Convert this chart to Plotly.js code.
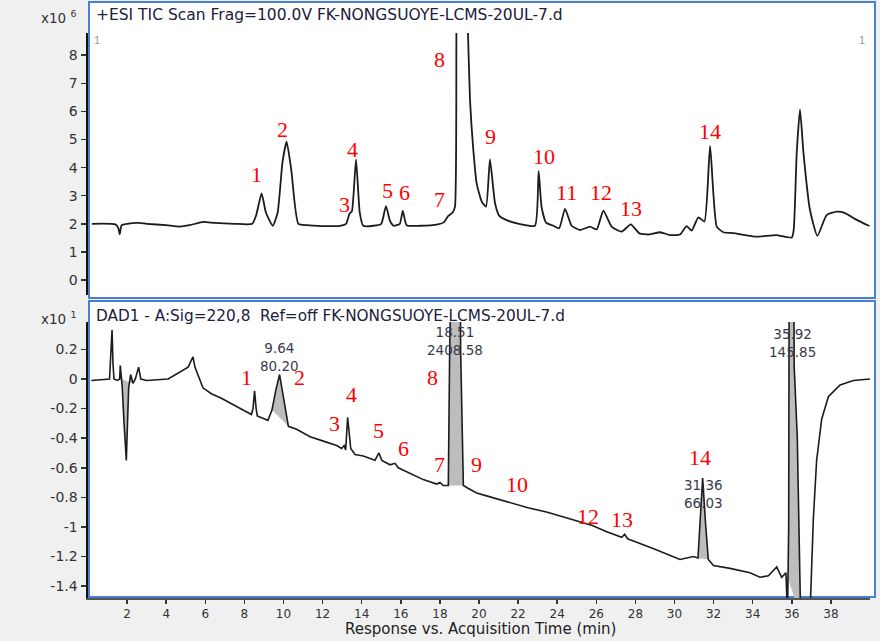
<!DOCTYPE html>
<html>
<head>
<meta charset="utf-8">
<script src="https://cdn.plot.ly/plotly-3.0.1.min.js"></script>
<style>html,body{margin:0;padding:0;background:#f0f0f0;}#chart{width:880px;height:641px;}</style>
</head>
<body>
<div id="chart"></div>
<script>
// ---- TIC trace (x10^6 counts) ----
const ticTime = [0.2,1.4,1.55,1.62,1.72,2.0,2.6,3.0,4.0,4.7,5.2,5.9,6.5,7.5,8.4,8.6,8.88,9.1,9.45,9.7,9.95,10.16,10.4,10.76,11.2,12.0,12.8,13.2,13.37,13.5,13.71,13.9,14.08,14.6,15.0,15.24,15.45,15.64,15.95,16.1,16.3,17.0,17.9,18.2,18.43,18.65,18.77,18.85,19.0,19.2,19.42,19.54,19.71,19.88,20.14,20.36,20.56,20.82,21.04,21.41,22.1,22.86,23.05,23.2,23.43,23.8,24.1,24.4,24.74,25.17,25.68,26.02,26.36,26.78,27.3,27.76,28.2,28.7,29.26,29.77,30.28,30.62,30.88,31.22,31.53,31.82,32.16,32.5,33.0,34.2,35.2,36.0,36.1,36.25,36.42,36.6,36.93,37.31,37.78,38.3,38.7,39.32,39.97];
const ticValue = [2.0,1.98,1.85,1.62,1.95,2.0,2.03,2.0,1.95,1.9,1.95,2.07,2.03,2.0,2.0,2.3,3.08,2.4,1.93,2.4,4.2,4.92,3.9,2.0,1.95,1.92,1.92,2.0,2.35,2.45,4.29,2.4,1.93,1.93,2.0,2.63,2.1,1.93,2.0,2.46,1.95,1.93,1.98,2.05,2.28,2.4,2.6,9.5,14,14,9.2,6.4,4.63,3.44,2.79,2.61,4.29,2.73,2.28,2.13,1.99,1.93,3.88,2.6,2.04,1.93,1.84,2.53,1.93,1.78,1.9,1.8,2.47,1.9,1.72,1.98,1.66,1.62,1.7,1.6,1.62,1.92,1.76,2.23,2.08,4.77,1.9,1.7,1.67,1.54,1.6,1.51,1.8,4.5,6.07,4.5,2.49,1.57,2.31,2.43,2.39,2.14,1.92];

// ---- DAD trace (x10^1 mAU) ----
const dadTime = [0.17,1.1,1.18,1.23,1.28,1.33,1.5,1.62,1.65,1.7,1.75,1.84,1.9,1.96,2.02,2.08,2.18,2.3,2.42,2.59,2.7,3.0,4.1,4.77,5.12,5.37,5.47,5.88,6.31,6.82,7.5,8.01,8.36,8.44,8.52,8.6,8.66,9.04,9.2,9.41,9.6,9.8,10.0,10.25,10.67,11.36,12.04,12.72,12.97,13.1,13.18,13.28,13.44,13.66,14.08,14.68,14.88,15.03,15.45,15.7,15.87,16.47,17.15,17.84,18.0,18.17,18.43,18.5,18.6,18.95,19.06,19.2,19.46,19.88,20.39,21.5,22.5,23.5,24.3,25.0,25.8,26.5,27.3,27.45,27.6,28.0,29.0,30.28,30.96,31.2,31.3,31.44,31.6,31.73,31.99,32.84,33.86,34.37,34.8,35.23,35.48,35.7,35.78,35.84,35.9,36.05,36.12,36.28,36.45,36.93,37.1,37.27,37.53,37.87,38.47,39.15,40.0];
const dadValue = [-0.01,0.0,0.2,0.33,0.1,0.0,-0.01,0.0,0.09,0.0,-0.05,-0.29,-0.45,-0.55,-0.3,-0.06,0.03,-0.03,0.0,0.08,0.0,-0.01,0.0,0.05,0.08,0.15,0.08,-0.06,-0.1,-0.13,-0.18,-0.22,-0.24,-0.2,-0.08,-0.2,-0.25,-0.27,-0.28,-0.21,-0.08,0.03,-0.12,-0.32,-0.34,-0.39,-0.42,-0.45,-0.47,-0.45,-0.48,-0.26,-0.47,-0.51,-0.52,-0.55,-0.5,-0.55,-0.58,-0.57,-0.6,-0.64,-0.68,-0.71,-0.7,-0.72,-0.72,0.2,3,3,0.2,-0.72,-0.74,-0.77,-0.79,-0.83,-0.87,-0.9,-0.93,-0.96,-0.99,-1.03,-1.07,-1.05,-1.08,-1.1,-1.15,-1.22,-1.2,-1.21,-1.0,-0.67,-1.0,-1.22,-1.26,-1.28,-1.31,-1.34,-1.33,-1.27,-1.34,-1.31,-1.6,-1.0,3,3,0.09,-0.39,-1.6,-1.6,-0.95,-0.55,-0.27,-0.12,-0.04,-0.01,0.0];

// integrated (shaded) peak windows on the DAD trace [start, end] in min
const fillStart = [1.7, 9.41, 18.43, 31.2, 35.7];
const fillEnd   = [2.3, 10.25, 19.2, 31.73, 36.45];

// integration labels on the DAD trace
const intLabelText = ["9.64<br>80.20", "18.51<br>2408.58", "31.36<br>66.03", "35.92<br>145.85"];
const intLabelTime = [9.82, 18.77, 31.46, 36.01];
const intLabelValue = [0.146, 0.254, -0.776, 0.24];

// red peak numbers, TIC panel
const ticPeakNum = ["1","2","3","4","5","6","7","8","9","10","11","12","13","14"];
const ticPeakTime = [8.64, 9.97, 13.1, 13.55, 15.3, 16.2, 18.0, 18.0, 20.6, 23.3, 24.5, 26.24, 27.8, 31.8];
const ticPeakValue = [3.74, 5.34, 2.67, 4.63, 3.2, 3.1, 2.85, 7.83, 5.09, 4.41, 3.13, 3.13, 2.53, 5.3];

// red peak numbers, DAD panel
const dadPeakNum = ["1","2","3","4","5","6","7","8","9","10","12","13","14"];
const dadPeakTime = [8.13, 10.84, 12.63, 13.5, 14.88, 16.16, 18.0, 17.6, 19.85, 21.94, 25.58, 27.3, 31.3];
const dadPeakValue = [0.01, 0.01, -0.30, -0.105, -0.35, -0.47, -0.58, 0.01, -0.58, -0.71, -0.93, -0.95, -0.53];

// axis ticks
const xTicks = [2,4,6,8,10,12,14,16,18,20,22,24,26,28,30,32,34,36,38];
const ticTicks = [0,1,2,3,4,5,6,7,8];
const dadTicks = [0.2,0,-0.2,-0.4,-0.6,-0.8,-1,-1.2,-1.4];
const dadTickText = ["0.2","0","-0.2","-0.4","-0.6","-0.8","-1","-1.2","-1.4"];

const topTitle = "+ESI TIC Scan Frag=100.0V FK-NONGSUOYE-LCMS-20UL-7.d";
const botTitle = "DAD1 - A:Sig=220,8  Ref=off FK-NONGSUOYE-LCMS-20UL-7.d";
const xTitle = "Response vs. Acquisition Time (min)";

// ---- build ----
const FONT = "Liberation Sans, Arial, sans-serif";
const WFONT = "DejaVu Sans, Liberation Sans, sans-serif";
const traces = [];
for (let k = 0; k < fillStart.length; k++) {
  const xs = [], ys = [];
  for (let i = 0; i < dadTime.length; i++) {
    if (dadTime[i] >= fillStart[k] && dadTime[i] <= fillEnd[k]) { xs.push(dadTime[i]); ys.push(dadValue[i]); }
  }
  traces.push({x: xs, y: ys, xaxis: 'x', yaxis: 'y2', type: 'scatter', mode: 'lines', fill: 'toself',
    fillcolor: '#bdbdbd', line: {width: 0}, hoverinfo: 'skip', showlegend: false});
}
traces.push({x: ticTime, y: ticValue, xaxis: 'x', yaxis: 'y', type: 'scatter', mode: 'lines',
  line: {color: '#1c1c1c', width: 1.8, shape: 'spline', smoothing: 0.5}, showlegend: false});
traces.push({x: dadTime, y: dadValue, xaxis: 'x', yaxis: 'y2', type: 'scatter', mode: 'lines',
  line: {color: '#1c1c1c', width: 1.6}, showlegend: false});

// paper helpers (plot area: x 88..870 px, y 33..598 px)
const px = v => (v - 88) / 782;
const py = v => (598 - v) / 565;

const annotations = [];
annotations.push({xref:'paper', yref:'paper', x: px(94), y: py(15), xanchor:'left', yanchor:'middle', showarrow:false,
  text: topTitle, font:{family: WFONT, size: 15.5, color:'#20203a'}});
annotations.push({xref:'paper', yref:'paper', x: px(94), y: py(316), xanchor:'left', yanchor:'middle', showarrow:false,
  text: botTitle, font:{family: WFONT, size: 15.3, color:'#20203a'}});
annotations.push({xref:'paper', yref:'paper', x: px(78), y: py(17), xanchor:'right', yanchor:'middle', showarrow:false,
  text: 'x10 <sup>6</sup>', font:{family: WFONT, size: 13.5, color:'#333'}});
annotations.push({xref:'paper', yref:'paper', x: px(78), y: py(318), xanchor:'right', yanchor:'middle', showarrow:false,
  text: 'x10 <sup>1</sup>', font:{family: WFONT, size: 13.5, color:'#333'}});
annotations.push({xref:'paper', yref:'paper', x: px(97), y: py(40), xanchor:'center', yanchor:'middle', showarrow:false,
  text: '1', font:{family: FONT, size: 11, color:'#999'}});
annotations.push({xref:'paper', yref:'paper', x: px(862), y: py(40), xanchor:'center', yanchor:'middle', showarrow:false,
  text: '1', font:{family: FONT, size: 11, color:'#999'}});
annotations.push({xref:'paper', yref:'paper', x: px(480), y: py(629), xanchor:'center', yanchor:'middle', showarrow:false,
  text: xTitle, font:{family: WFONT, size: 15, color:'#222'}});
for (let i = 0; i < ticPeakNum.length; i++) {
  annotations.push({xref:'x', yref:'y', x: ticPeakTime[i], y: ticPeakValue[i], showarrow:false,
    text: ticPeakNum[i], font:{family:'Liberation Serif, Times New Roman, serif', size: 22, color:'#ff0000'}});
}
for (let i = 0; i < dadPeakNum.length; i++) {
  annotations.push({xref:'x', yref:'y2', x: dadPeakTime[i], y: dadPeakValue[i], showarrow:false,
    text: dadPeakNum[i], font:{family:'Liberation Serif, Times New Roman, serif', size: 22, color:'#ff0000'}});
}
for (let i = 0; i < intLabelText.length; i++) {
  annotations.push({xref:'x', yref:'y2', x: intLabelTime[i], y: intLabelValue[i], showarrow:false,
    text: intLabelText[i], font:{family: WFONT, size: 13.5, color:'#3a3a4e'}});
}

const shapes = [
  {type:'rect', xref:'paper', yref:'paper', x0: px(89), x1: px(875), y0: py(298), y1: py(2),
   fillcolor:'#ffffff', line:{color:'#4a7fd6', width:2}, layer:'below'},
  {type:'rect', xref:'paper', yref:'paper', x0: px(89), x1: px(875), y0: py(597), y1: py(301),
   fillcolor:'#ffffff', line:{color:'#4a7fd6', width:2}, layer:'below'}
];

const layout = {
  width: 880, height: 641,
  paper_bgcolor: '#f0f0f0', plot_bgcolor: 'rgba(0,0,0,0)',
  margin: {l: 88, r: 10, t: 33, b: 43},
  font: {family: FONT, size: 13, color: '#333'},
  showlegend: false,
  xaxis: {range: [0, 40], anchor: 'y2', tickvals: xTicks, ticks: 'outside', ticklen: 4, tickwidth: 1.5,
    tickcolor: '#333', showline: true, linecolor: '#555', linewidth: 1.5, showgrid: false, zeroline: false,
    tickfont: {family: WFONT, size: 12, color: '#333'}},
  yaxis: {domain: [py(295), 1], range: [-0.534, 8.79], anchor: 'x', tickvals: ticTicks, ticks: 'outside',
    ticklen: 5, tickwidth: 1.5, tickcolor: '#333', showline: true, linecolor: '#111', linewidth: 2.5,
    showgrid: false, zeroline: false, tickfont: {family: WFONT, size: 14, color: '#333'}},
  yaxis2: {domain: [0, py(322)], range: [-1.48, 0.385], anchor: 'x', tickvals: dadTicks, ticktext: dadTickText,
    ticks: 'outside', ticklen: 5, tickwidth: 1.5, tickcolor: '#333', showline: true, linecolor: '#111',
    linewidth: 2.5, showgrid: false, zeroline: false, tickfont: {family: WFONT, size: 14, color: '#333'}},
  annotations: annotations,
  shapes: shapes
};

Plotly.newPlot('chart', traces, layout, {displayModeBar: false, staticPlot: true});
</script>
</body>
</html>
